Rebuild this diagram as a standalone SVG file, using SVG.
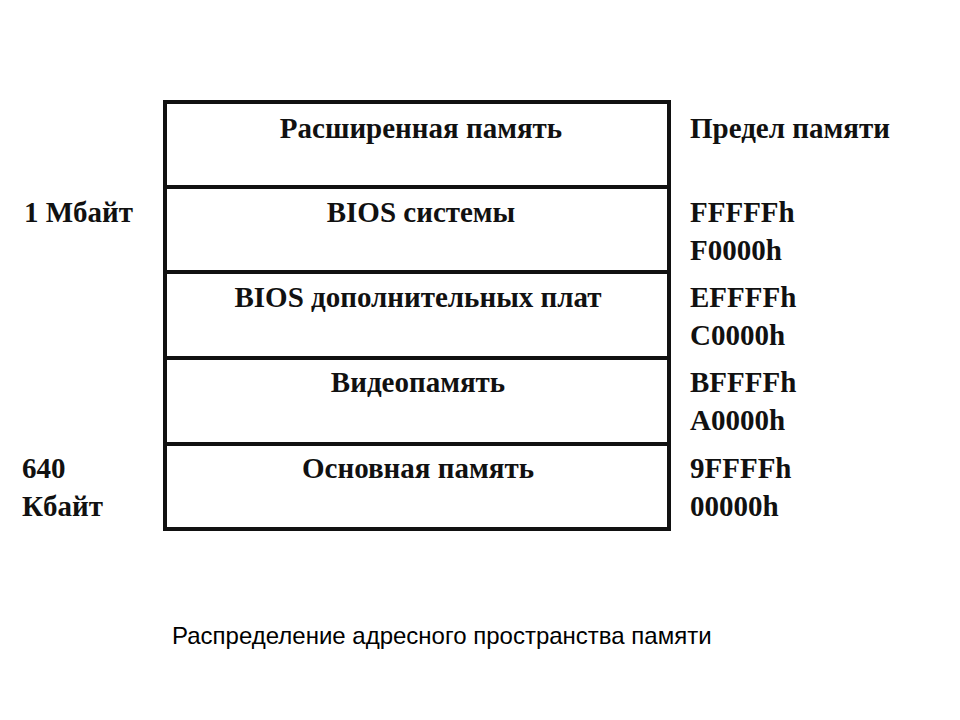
<svg xmlns="http://www.w3.org/2000/svg" width="960" height="720" viewBox="0 0 960 720">
<style>
.t{font-family:"Liberation Serif","Times New Roman",serif;font-weight:bold;font-size:29px;fill:#111}
.c{text-anchor:middle}
.cap{font-family:"Liberation Sans",Arial,sans-serif;font-size:24px;fill:#000}
.ln{stroke:#111;stroke-width:4;fill:none}
</style>
<rect width="960" height="720" fill="#fff"/>
<g id="connectors">
<rect class="ln" x="165" y="102" width="504" height="427"/>
<line class="ln" x1="165" y1="187" x2="669" y2="187"/>
<line class="ln" x1="165" y1="272" x2="669" y2="272"/>
<line class="ln" x1="165" y1="358" x2="669" y2="358"/>
<line class="ln" x1="165" y1="444" x2="669" y2="444"/>
</g>
<g id="extended"><text class="t c" x="421" y="138">Расширенная память</text></g>
<g id="bios-sys"><text class="t c" x="421" y="222">BIOS системы</text></g>
<g id="bios-add"><text class="t c" x="418" y="307">BIOS дополнительных плат</text></g>
<g id="video"><text class="t c" x="418" y="392">Видеопамять</text></g>
<g id="base"><text class="t c" x="418" y="478">Основная память</text></g>
<g id="limits">
<text class="t" x="690" y="138">Предел памяти</text>
<text class="t" x="690" y="222">FFFFFh</text>
<text class="t" x="690" y="260">F0000h</text>
<text class="t" x="690" y="307">EFFFFh</text>
<text class="t" x="690" y="345">C0000h</text>
<text class="t" x="690" y="392">BFFFFh</text>
<text class="t" x="690" y="430">A0000h</text>
<text class="t" x="690" y="478">9FFFFh</text>
<text class="t" x="690" y="516">00000h</text>
</g>
<g id="sizes">
<text class="t" x="24" y="222">1 Мбайт</text>
<text class="t" x="22" y="478">640</text>
<text class="t" x="22" y="516">Кбайт</text>
</g>
<g id="caption"><text class="cap" x="172" y="644">Распределение адресного пространства памяти</text></g>
</svg>
